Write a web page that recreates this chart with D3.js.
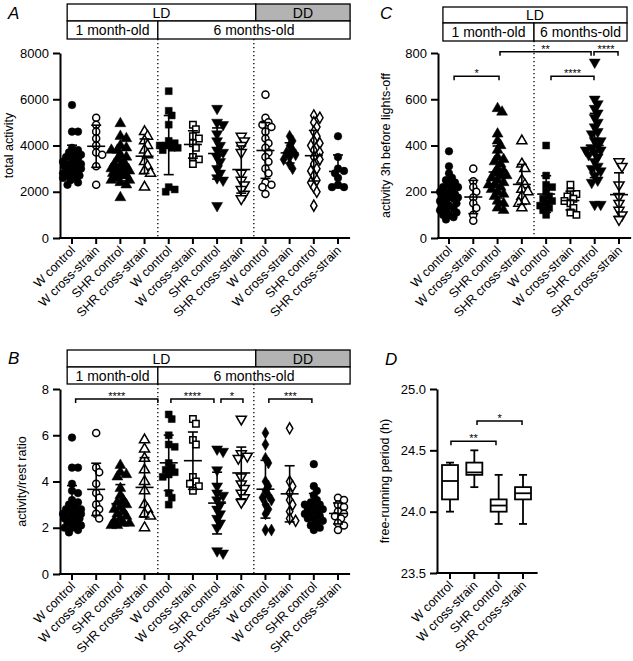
<!DOCTYPE html>
<html><head><meta charset="utf-8">
<script src="https://cdn.jsdelivr.net/npm/d3@7"></script>
<style>body{margin:0;background:#fff;} text{font-family:Arial,"Liberation Sans",Helvetica,sans-serif;fill:#000;}</style>
</head><body><svg id="c" width="633" height="661"></svg>
<script>
const groupNames = ["W control","W cross-strain","SHR control","SHR cross-strain"];
const categoriesAB = [...groupNames, ...groupNames, ...groupNames];
const categoriesC = [...groupNames, ...groupNames];
const categoriesD = groupNames.slice();

const ticksA = [0,2000,4000,6000,8000];
const ticksB = [0,2,4,6,8];
const ticksC = [0,200,400,600,800];
const ticksD = [23.5,24.0,24.5,25.0];

const markersA = ["circleF","circleO","triUpF","triUpO","squareF","squareO","triDownF","triDownO","circleO","diamondF","diamondO","circleF"];
const markersB = ["circleF","circleO","triUpF","triUpO","squareF","squareO","triDownF","triDownO","diamondF","diamondO","circleF","circleO"];
const markersC = ["circleF","circleO","triUpF","triUpO","squareF","squareO","triDownF","triDownO"];

// Panel A: total activity
const totalActivity = [
  [5750,4600,4600,3900,3800,3700,3600,3500,3400,3300,3300,3200,3100,3000,3000,2900,2800,2800,2700,2700,2600,2500,2400,2300,3500,3200,2900,3100,3600,2600],
  [5200,4900,4600,4300,4000,3700,3600,3100,2300],
  [4950,4400,4300,4000,3900,3800,3800,3600,3500,3300,3200,3100,3000,3000,2900,2900,2800,2800,2700,2600,2500,2500,2400,2300,1750,3100,2700,3400],
  [4600,4400,4200,4000,3800,3600,3300,3100,2900,2800,2200],
  [6350,5500,5300,4900,4200,4100,4000,4000,3900,3900,3800,2200,2100,2000],
  [4900,4700,4400,4300,4100,3900,3500,3400,3200],
  [5600,5000,4900,4500,4200,4000,3800,3700,3500,3300,3000,2800,2600,2500,1400],
  [4400,4200,4000,3700,2800,2500,2300,2100,1900,1700],
  [6200,5200,5000,4900,4800,4600,4300,4100,3900,3700,3500,3300,3000,2800,2400,2300,2200,1900],
  [4400,4200,4000,3800,3700,3600,3500,3400,3200,3000],
  [5300,5200,5000,4800,4600,4400,4200,4100,4000,3800,3700,3500,3400,3200,3000,2900,2700,2500,2400,2200,2000,1400],
  [4400,3500,3000,2900,2800,2600,2300,2200,2200]
];

// Panel B: activity/rest ratio
const activityRest = [
  [5.9,4.6,4.6,3.9,3.6,3.5,3.2,3.0,2.9,2.8,2.7,2.7,2.6,2.5,2.5,2.4,2.3,2.2,2.1,2.0,2.0,1.9,1.8,3.1,2.6,2.4,2.2,2.8],
  [6.1,4.6,4.4,3.9,3.5,3.3,3.0,2.8,2.6,2.4],
  [4.7,4.4,4.3,4.2,3.7,3.4,3.2,3.1,3.0,2.9,2.8,2.7,2.6,2.5,2.4,2.3,2.2,2.2,2.1,2.1],
  [5.8,5.4,5.0,4.5,4.0,3.6,3.0,2.8,2.6,2.5,2.0],
  [6.9,6.7,6.0,5.6,5.5,4.8,4.6,4.5,4.4,4.3,4.2,3.5,3.3,3.0],
  [6.7,6.5,5.8,5.6,4.2,4.0,3.9,3.8,3.6],
  [5.4,5.3,4.5,3.8,3.5,3.4,3.2,3.0,2.8,2.6,2.4,2.2,2.0,1.0,0.9],
  [6.7,5.2,5.1,5.0,4.2,3.9,3.7,3.5,3.3,3.1],
  [6.1,5.6,5.0,4.8,4.0,3.8,3.6,3.4,3.3,3.2,3.0,2.8,2.6,1.9,1.9],
  [6.3,4.0,3.8,3.5,3.2,3.0,2.7,2.4,2.3],
  [4.75,3.8,3.6,3.4,3.2,3.1,3.0,2.9,2.8,2.7,2.6,2.5,2.4,2.3,2.2,2.1,2.0,1.9,2.6,2.4,2.8,3.0],
  [3.3,3.2,3.0,2.9,2.7,2.6,2.5,2.4,2.2,2.1,1.9]
];

// Panel C: activity 3h before lights-off
const activityBefore = [
  [375,310,280,260,240,230,220,210,200,190,180,175,170,160,150,140,130,120,110,100,90,80,200,180,160,140,120,100,250,220],
  [300,245,220,200,175,150,130,100,75],
  [560,545,450,420,400,380,350,330,320,300,290,280,270,260,250,240,230,220,210,200,190,180,160,150,130,120,340,270,230],
  [420,320,300,250,230,210,200,180,160,150,130],
  [400,270,230,220,200,180,170,160,150,140,130,120,100],
  [230,200,190,180,170,160,150,130,110,100],
  [760,600,580,560,540,520,500,480,450,420,400,390,380,370,350,330,310,290,270,250,240,145,145,380,420,460,300,360],
  [330,310,230,180,150,120,100,80]
];

// Panel D: free-running period box plots
const periodMin    = [24.0, 24.2, 23.9, 23.9];
const periodQ1     = [24.1, 24.3, 24.0, 24.1];
const periodMedian = [24.25,24.32,24.05,24.15];
const periodQ3     = [24.38,24.4, 24.1, 24.2];
const periodMax    = [24.4, 24.5, 24.3, 24.3];

// significance brackets: [from index, to index, value level, label]
const sigB = [[0.15,3.55,7.57,"****"],[4.09,5.87,7.57,"****"],[6.16,7.07,7.57,"*"],[8.14,9.92,7.57,"***"]];
const sigC = [[0.21,2.06,700,"*"],[2.1,5.85,805,"**"],[4.2,5.97,700,"****"],[5.97,6.96,805,"****"]];
const sigD = [[0.04,1.89,24.575,"**"],[1.11,2.96,24.74,"*"]];

const svg = d3.select("#c");
svg.append("rect").attr("width",633).attr("height",661).attr("fill","#fff");

function markerPath(m){
  const base = m.replace(/[FO]$/,"");
  let t = d3.symbolCircle, s = 46;
  if (base==="triUp"||base==="triDown"){ t = d3.symbolTriangle; s = 52; }
  if (base==="square"){ t = d3.symbolSquare; s = 48; }
  if (base==="diamond"){ t = d3.symbolDiamond; s = 42; }
  if (m.endsWith("O")) s *= 0.85;
  return d3.symbol().type(t).size(s)();
}

function swarm(vals, y, minD, maxOff){
  const items = vals.map((v,i)=>({v,i})).sort((a,b)=>b.v-a.v);
  const placed = [];
  const cands = [0];
  for (let k=1; k*1.5<=maxOff; k++){ cands.push(k*1.5, -k*1.5); }
  for (const p of items){
    const py = y(p.v);
    let best = 0, bestMin = -1;
    for (const dx of cands){
      let md = Infinity;
      for (const q of placed){ const d = Math.hypot(q.dx-dx, q.py-py); if (d<md) md=d; }
      if (md >= minD){ best = dx; bestMin = md; break; }
      if (md > bestMin){ bestMin = md; best = dx; }
    }
    placed.push({v:p.v, dx:best, py});
  }
  return placed;
}

function panel(cfg){
  const g = svg.append("g");
  const x = d3.scaleLinear().domain([0, cfg.cats.length-1]).range([cfg.xFirst, cfg.xLast]);
  const y = d3.scaleLinear().domain(cfg.yDomain).range([cfg.yBot, cfg.yTop]);

  // header
  if (cfg.header){
    const h = cfg.header;
    h.row1.forEach(r=>{
      const a = x(r[0]), b = x(r[1]);
      g.append("rect").attr("x",a).attr("y",h.y0).attr("width",b-a).attr("height",h.y1-h.y0)
        .attr("fill",r[3]).attr("stroke","#000").attr("stroke-width",1.3);
      g.append("text").attr("x",(a+b)/2).attr("y",(h.y0+h.y1)/2+5).attr("text-anchor","middle").attr("font-size",14).text(r[2]);
    });
    h.row2.forEach(r=>{
      const a = x(r[0]), b = x(r[1]);
      g.append("rect").attr("x",a).attr("y",h.y1).attr("width",b-a).attr("height",h.y2-h.y1)
        .attr("fill","#fff").attr("stroke","#000").attr("stroke-width",1.3);
      g.append("text").attr("x",(a+b)/2).attr("y",(h.y1+h.y2)/2+5).attr("text-anchor","middle").attr("font-size",14).text(r[2]);
    });
    (h.dividers||[]).forEach(d=>{
      g.append("line").attr("x1",x(d)).attr("x2",x(d)).attr("y1",h.y2).attr("y2",cfg.yBot)
        .attr("stroke","#000").attr("stroke-width",1.3).attr("stroke-dasharray","1.3,2.7");
    });
  }

  // y axis
  const ya = d3.axisLeft(y).tickValues(cfg.ticks).tickSize(7).tickSizeOuter(0).tickPadding(4).tickFormat(cfg.fmt);
  const yg = g.append("g").attr("transform",`translate(${cfg.xAxis},0)`).call(ya);
  yg.select(".domain").attr("stroke-width",2);
  yg.selectAll(".tick line").attr("stroke-width",2);
  yg.selectAll(".tick text").attr("font-size",13).attr("font-family",'Arial,"Liberation Sans",sans-serif').attr("fill","#000");

  // x axis
  g.append("line").attr("x1",cfg.xAxis-1).attr("x2",x(cfg.xEndIdx)).attr("y1",cfg.yBot).attr("y2",cfg.yBot)
    .attr("stroke","#000").attr("stroke-width",2);
  cfg.cats.forEach((c,i)=>{
    g.append("line").attr("x1",x(i)).attr("x2",x(i)).attr("y1",cfg.yBot).attr("y2",cfg.yBot+6)
      .attr("stroke","#000").attr("stroke-width",2);
    g.append("text").attr("transform",`translate(${x(i)+4},${cfg.yBot+13}) rotate(-45)`)
      .attr("text-anchor","end").attr("font-size",12.5).text(c);
  });

  // y label
  g.append("text").attr("transform",`translate(${cfg.ylx},${(cfg.yTop+cfg.yBot)/2}) rotate(-90)`)
    .attr("text-anchor","middle").attr("font-size",12.5).text(cfg.ylabel);
  // panel letter
  g.append("text").attr("x",cfg.letterX).attr("y",cfg.letterY).attr("font-size",17).attr("font-style","italic").text(cfg.letter);

  // scatter groups
  if (cfg.data){
    cfg.data.forEach((vals,i)=>{
      const m = cfg.markers[i];
      const pts = swarm(vals, y, 5.4, 9);
      const path = markerPath(m);
      const filled = m.endsWith("F");
      g.append("g").selectAll("path").data(pts).join("path")
        .attr("d",path)
        .attr("transform",d=>`translate(${x(i)+d.dx},${d.py})${m.startsWith("triDown")?" rotate(180)":""}`)
        .attr("fill",filled?"#000":"#fff").attr("stroke","#000").attr("stroke-width",filled?0.5:1.5);
      const mean = d3.mean(vals), sd = d3.deviation(vals);
      const cx = x(i);
      const eg = g.append("g").attr("stroke","#000").attr("stroke-width",1.6);
      eg.append("line").attr("x1",cx).attr("x2",cx).attr("y1",y(mean-sd)).attr("y2",y(mean+sd));
      eg.append("line").attr("x1",cx-9).attr("x2",cx+9).attr("y1",y(mean)).attr("y2",y(mean));
      [mean-sd, mean+sd].forEach(v=>eg.append("line").attr("x1",cx-5).attr("x2",cx+5).attr("y1",y(v)).attr("y2",y(v)));
    });
  }

  // box plots
  if (cfg.box){
    const b = cfg.box;
    b.min.forEach((_,i)=>{
      const cx = x(i), bg = g.append("g").attr("stroke","#000").attr("stroke-width",1.8).attr("fill","#fff");
      bg.append("line").attr("x1",cx).attr("x2",cx).attr("y1",y(b.min[i])).attr("y2",y(b.max[i]));
      bg.append("line").attr("x1",cx-4).attr("x2",cx+4).attr("y1",y(b.min[i])).attr("y2",y(b.min[i]));
      bg.append("line").attr("x1",cx-4).attr("x2",cx+4).attr("y1",y(b.max[i])).attr("y2",y(b.max[i]));
      bg.append("rect").attr("x",cx-8).attr("width",16).attr("y",y(b.q3[i])).attr("height",y(b.q1[i])-y(b.q3[i]));
      bg.append("line").attr("x1",cx-8).attr("x2",cx+8).attr("y1",y(b.med[i])).attr("y2",y(b.med[i]));
    });
  }

  // significance
  (cfg.sig||[]).forEach(s=>{
    const a = x(s[0]), bb = x(s[1]), yy = y(s[2]);
    g.append("path").attr("d",`M${a},${yy+4}V${yy}H${bb}V${yy+4}`).attr("fill","none").attr("stroke","#000").attr("stroke-width",1.5);
    g.append("text").attr("x",(a+bb)/2).attr("y",yy+1).attr("text-anchor","middle").attr("font-size",11).text(s[3]);
  });
}

panel({cats:categoriesAB, xFirst:72, xLast:338, xAxis:60, xEndIdx:11.5, yTop:53, yBot:238, yDomain:[0,8000],
  ticks:ticksA, fmt:d3.format("d"), ylabel:"total activity", ylx:13, letter:"A", letterX:8, letterY:19,
  data:totalActivity, markers:markersA,
  header:{y0:4, y1:21, y2:39,
    row1:[[-0.2,7.6,"LD","#fff"],[7.6,11.5,"DD","#b3b3b3"]],
    row2:[[-0.2,3.55,"1 month-old"],[3.55,11.5,"6 months-old"]], dividers:[3.55,7.52]}});

panel({cats:categoriesAB, xFirst:72, xLast:338, xAxis:60, xEndIdx:11.5, yTop:389, yBot:574, yDomain:[0,8],
  ticks:ticksB, fmt:d3.format("d"), ylabel:"activity/rest ratio", ylx:26, letter:"B", letterX:8, letterY:364,
  data:activityRest, markers:markersB, sig:sigB,
  header:{y0:350, y1:367, y2:384,
    row1:[[-0.2,7.6,"LD","#fff"],[7.6,11.5,"DD","#b3b3b3"]],
    row2:[[-0.2,3.55,"1 month-old"],[3.55,11.5,"6 months-old"]], dividers:[3.55,7.52]}});

panel({cats:categoriesC, xFirst:449, xLast:619, xAxis:438, xEndIdx:7.5, yTop:53, yBot:238, yDomain:[0,800],
  ticks:ticksC, fmt:d3.format("d"), ylabel:"activity 3h before lights-off", ylx:390, letter:"C", letterX:380, letterY:19,
  data:activityBefore, markers:markersC, sig:sigC,
  header:{y0:7, y1:23, y2:41,
    row1:[[-0.25,7.33,"LD","#fff"]],
    row2:[[-0.25,3.5,"1 month-old"],[3.5,7.33,"6 months-old"]], dividers:[3.5]}});

panel({cats:categoriesD, xFirst:450, xLast:523, xAxis:437, xEndIdx:3.6, yTop:389, yBot:573, yDomain:[23.5,25],
  ticks:ticksD, fmt:d3.format(".1f"), ylabel:"free-running period (h)", ylx:389, letter:"D", letterX:385, letterY:365,
  box:{min:periodMin, q1:periodQ1, med:periodMedian, q3:periodQ3, max:periodMax}, sig:sigD});
</script>
</body></html>
